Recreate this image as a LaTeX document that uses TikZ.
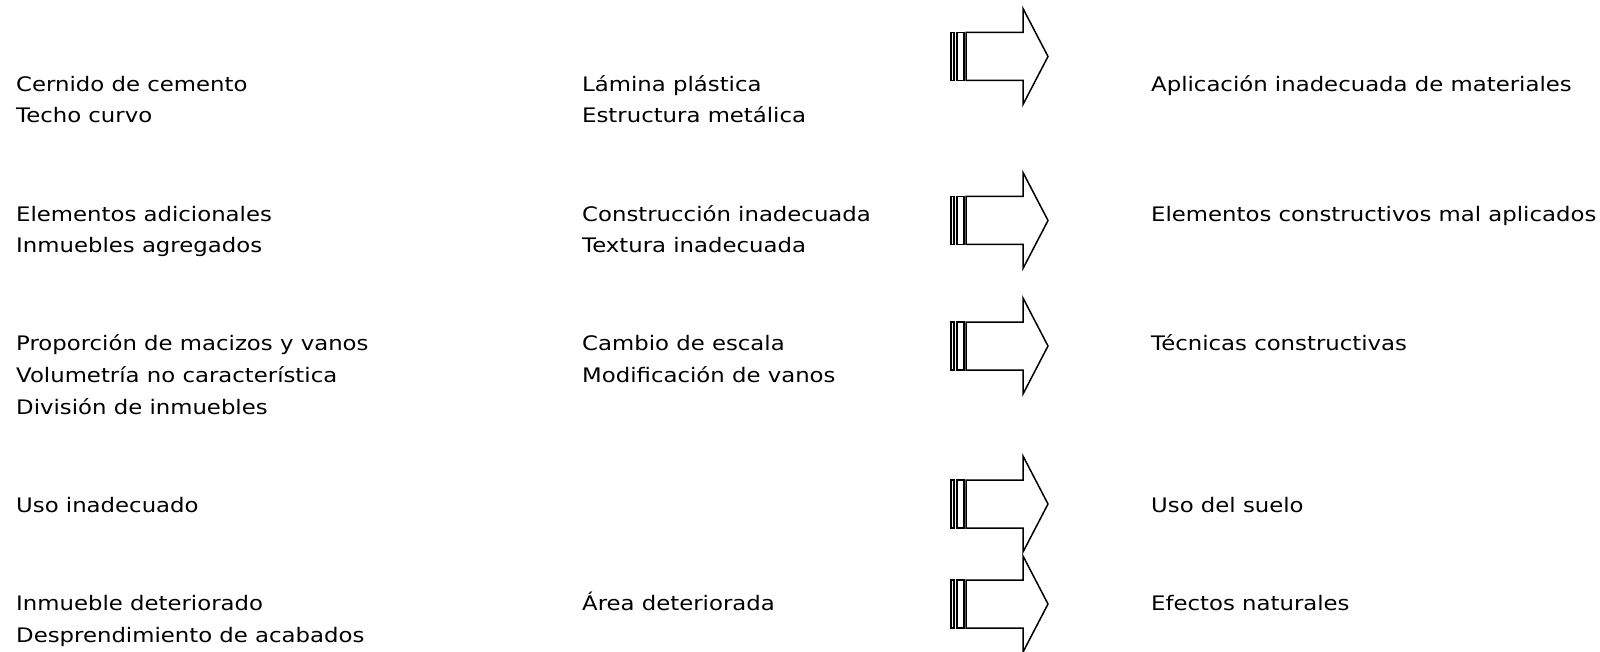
\documentclass[tikz,border=0pt]{standalone}
\usepackage{fontspec}
\setmainfont{DejaVu Sans}[FakeStretch=1.14]
\usetikzlibrary{positioning}

\tikzset{
    txt/.style={anchor=base west, inner sep=0pt, align=left,
        font=\fontsize{20}{31.7}\selectfont},
    blockarrow/.pic={
        % shaft and head
        \draw[line width=1.5pt, line join=miter]
            (-82,-24) -- (-25,-24) -- (-25,-48) -- (0,0) -- (-25,48)
            -- (-25,24) -- (-82,24) -- cycle;
        % tail bars
        \draw[line width=1.5pt] (-91,-24) rectangle (-84,24);
        \draw[line width=1.5pt] (-97,-24) rectangle (-94,24);
    }
}

\begin{document}
\begin{tikzpicture}[x=1pt, y=-1pt]
    \useasboundingbox (0,0) rectangle (1600,652);

    % --- Left column (placed at the baseline of the last line) ---
    \node[txt] (sint1) at (16,123) {Cernido de cemento\\Techo curvo};
    \node[txt] (sint2) at (16,253) {Elementos adicionales\\Inmuebles agregados};
    \node[txt] (sint3) at (16,414) {Proporción de macizos y vanos\\Volumetría no característica\\División de inmuebles};
    \node[txt] (sint4) at (16,512) {Uso inadecuado};
    \node[txt] (sint5) at (16,642) {Inmueble deteriorado\\Desprendimiento de acabados};

    % --- Middle column ---
    \node[txt] (det1) at (582,123) {Lámina plástica\\Estructura metálica};
    \node[txt] (det2) at (582,253) {Construcción inadecuada\\Textura inadecuada};
    \node[txt] (det3) at (582,382) {Cambio de escala\\Modificación de vanos};
    \node[txt] (det5) at (582,610) {Área deteriorada};

    % --- Block arrows ---
    \pic at (1048,56.5) {blockarrow};
    \pic at (1048,220.5) {blockarrow};
    \pic at (1048,346) {blockarrow};
    \pic at (1048,504) {blockarrow};
    \pic at (1048,604) {blockarrow};

    % --- Right column ---
    \node[txt] (causa1) at (1151,92)  {Aplicación inadecuada de materiales};
    \node[txt] (causa2) at (1151,222) {Elementos constructivos mal aplicados};
    \node[txt] (causa3) at (1151,350) {Técnicas constructivas};
    \node[txt] (causa4) at (1151,512) {Uso del suelo};
    \node[txt] (causa5) at (1151,610) {Efectos naturales};
\end{tikzpicture}
\end{document}
